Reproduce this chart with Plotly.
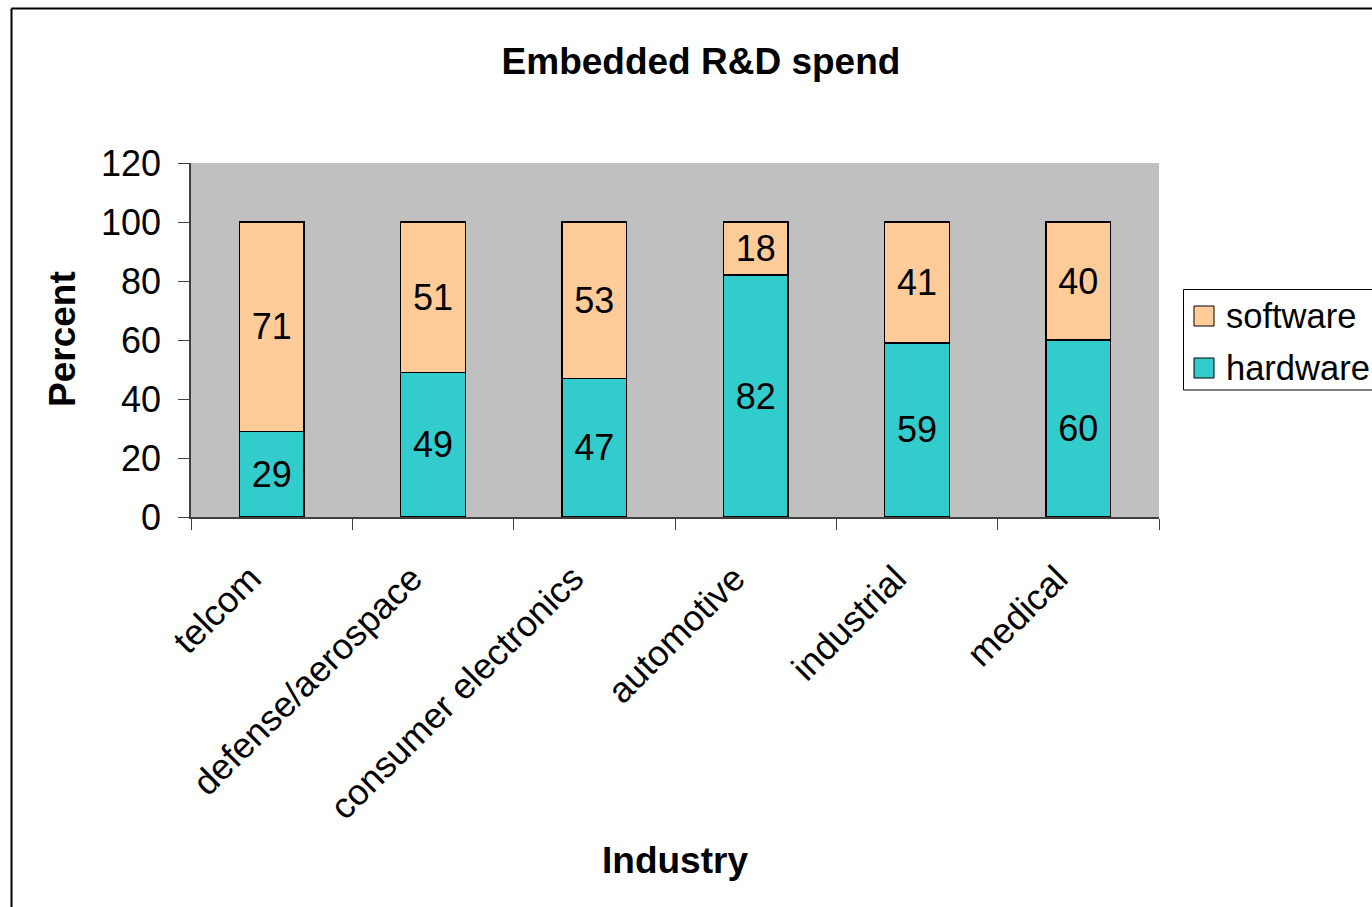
import plotly.graph_objects as go

categories = ["telcom", "defense/aerospace", "consumer electronics", "automotive", "industrial", "medical"]
hardware = [29, 49, 47, 82, 59, 60]
software = [71, 51, 53, 18, 41, 40]
y_ticks = [0, 20, 40, 60, 80, 100, 120]
series_names = ["software", "hardware"]
series_colors = ["#FFCC99", "#33CCCC"]

FONT = "Liberation Sans, Arial, sans-serif"
W, H = 1372, 907
L, R, T, B = 191, 1159, 163, 517
pw, ph = R - L, B - T

def px_x(p):
    return (p - L) / pw

def px_y(p):
    return (B - p) / ph

fig = go.Figure()
fig.add_trace(go.Bar(
    x=categories, y=hardware, name="hardware", showlegend=False,
    marker=dict(color=series_colors[1], line=dict(color="black", width=1.5)),
    text=hardware, textposition="inside", insidetextanchor="middle",
    textangle=0, constraintext="none",
    textfont=dict(family=FONT, size=36, color="black"),
))
fig.add_trace(go.Bar(
    x=categories, y=software, name="software", showlegend=False,
    marker=dict(color=series_colors[0], line=dict(color="black", width=1.5)),
    text=software, textposition="inside", insidetextanchor="middle",
    textangle=0, constraintext="none",
    textfont=dict(family=FONT, size=36, color="black"),
))

shapes = [
    # chart border (left and top visible)
    dict(type="line", xref="paper", yref="paper", x0=px_x(11.5), x1=px_x(1400),
         y0=px_y(8.5), y1=px_y(8.5), line=dict(color="black", width=2)),
    dict(type="line", xref="paper", yref="paper", x0=px_x(11.5), x1=px_x(11.5),
         y0=px_y(8.5), y1=px_y(930), line=dict(color="black", width=2)),
    # legend box
    dict(type="rect", xref="paper", yref="paper", x0=px_x(1183.5), x1=px_x(1420),
         y0=px_y(289.5), y1=px_y(390), line=dict(color="black", width=1),
         fillcolor="white", layer="above"),
]
annotations = [
    dict(text="<b>Industry</b>", xref="paper", yref="paper", x=0.5, y=px_y(860),
         xanchor="center", yanchor="middle", showarrow=False,
         font=dict(family=FONT, size=37)),
    dict(text="<b>Percent</b>", xref="paper", yref="paper", x=px_x(62), y=px_y(339),
         xanchor="center", yanchor="middle", showarrow=False, textangle=-90,
         font=dict(family=FONT, size=37)),
]
legend_rows = [316, 368]
for name, color, cy in zip(series_names, series_colors, legend_rows):
    shapes.append(dict(type="rect", xref="paper", yref="paper",
                       x0=px_x(1194), x1=px_x(1214), y0=px_y(cy - 10), y1=px_y(cy + 10),
                       line=dict(color="black", width=1), fillcolor=color, layer="above"))
    annotations.append(dict(text=name, xref="paper", yref="paper", x=px_x(1224),
                            y=px_y(cy), xanchor="left", yanchor="middle", showarrow=False,
                            font=dict(family=FONT, size=34.5)))

fig.update_layout(
    width=W, height=H,
    barmode="stack", bargap=0.6,
    margin=dict(l=L, r=W - R, t=T, b=H - B, pad=0, autoexpand=False),
    paper_bgcolor="white", plot_bgcolor="#C0C0C0",
    font=dict(family=FONT, size=36, color="black"),
    title=dict(text="<b>Embedded R&D spend</b>", x=701 / W, xanchor="center",
               xref="container", yref="container", y=1 - 61 / H, yanchor="middle",
               font=dict(family=FONT, size=37, color="black")),
    showlegend=False,
    xaxis=dict(showline=True, linecolor="#404040", linewidth=1.5,
               ticks="outside", tickson="boundaries", ticklen=11, tickcolor="#404040",
               tickangle=-45, showgrid=False, tickfont=dict(family=FONT, size=36),
               tickmode="array", tickvals=categories,
               ticktext=[c + "\u00a0\u00a0\u00a0" for c in categories],
               ticklabelstandoff=3),
    yaxis=dict(range=[0, 120], tickvals=y_ticks, showline=True, linecolor="#404040",
               linewidth=1.5, ticks="outside", ticklen=11, tickcolor="#404040",
               showgrid=False, zeroline=False, tickfont=dict(family=FONT, size=36),
               ticklabelstandoff=10),
    annotations=annotations,
    shapes=shapes,
)

fig.write_html("out.html")
